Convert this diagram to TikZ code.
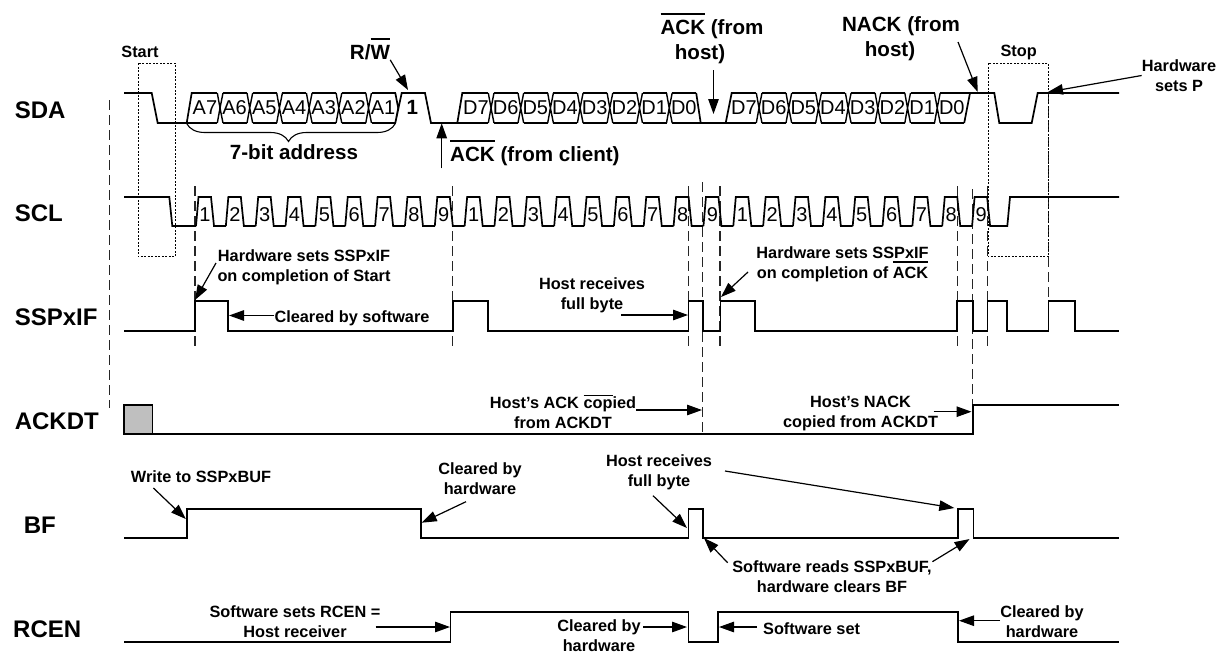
\documentclass[tikz,border=0pt]{standalone}
\usepackage{fontspec}
\setmainfont{Liberation Sans}
\usetikzlibrary{arrows.meta,decorations.pathreplacing}
% bar over a word, kept out of the height of the line
\newcommand{\barred}[1]{\smash{\vbox{\hrule height .08em \kern .25em \hbox{#1}}}}

\begin{document}
\begin{tikzpicture}[
    x=1pt, y=-1pt,
    every node/.style={inner sep=0pt, align=center},
    nm/.style={font=\fontsize{24}{28}\selectfont\bfseries, anchor=west},
    big/.style={font=\fontsize{20.6}{25}\selectfont\bfseries},
    lbl/.style={font=\fontsize{16.3}{20}\selectfont\bfseries},
    cell/.style={font=\fontsize{20}{24}\selectfont},
    sig/.style={line width=1.7pt, line join=miter},
    ar/.style={line width=1.2pt, -{Triangle[length=15pt,width=10.5pt]}},
    dsh/.style={line width=1.3pt, dash pattern=on 10pt off 5pt, black!85},
    win/.style={line width=1pt, dash pattern=on 2pt off 1.5pt},
  ]
  \useasboundingbox (0,0) rectangle (1225,656);

  % signal names
  \node[nm] (sda) at (14.6,110) {SDA};
  \node[nm] (scl) at (14.6,213.5) {SCL};
  \node[nm] (sspif) at (14.6,317) {SSPxIF};
  \node[nm] (ackdt) at (14.6,421) {ACKDT};
  \node[nm] (bf) at (23.7,525) {BF};
  \node[nm] (rcen) at (13,629) {RCEN};

  % dashed guides
  \draw[dsh] (109.5,100) -- (109.5,408);
  \foreach \xd in {195,452.7,688.3,720,957.3,987.7}
    \draw[dsh] (\xd,186) -- (\xd,346);
  \draw[dsh] (702.7,182) -- (702.7,434);
  \draw[dsh] (972.2,189) -- (972.2,405);
  \draw[dsh] (1048.4,92) -- (1048.4,300);

  % start and stop windows
  \draw[win] (138.3,63.3) rectangle (175.3,256.7);
  \draw[win] (988.3,63.3) rectangle (1048.4,256.7);
  \node[lbl] (start) at (140,52) {Start};
  \node[lbl] (stop) at (1018.7,52) {Stop};

  % SDA
  \draw[sig] (124,93) -- (151.7,93) -- (157.7,123) -- (193.3,123) (186.7,123) -- (191.7,93) -- (193.3,93);
  \foreach \xo/\pre/\lst/\grp in {190.3/A/6/a, 461.3/D/7/b, 729.3/D/7/c}
    \foreach \k in {0,...,\lst} {
      \pgfmathsetmacro\xc{\xo+29.7*\k}
      \pgfmathtruncatemacro\bit{7-\k}
      \draw[sig] (\xc+3,93) -- (\xc+27,93) (\xc+3,123) -- (\xc+27,123);
      \ifnum\k<\lst
        \draw[line width=1.4pt] (\xc+27,93) -- (\xc+29.7,108) -- (\xc+32.7,93)
          (\xc+27,123) -- (\xc+29.7,108) -- (\xc+32.7,123);
      \fi
      \node[cell] (\grp\k) at (\xc+14.6,107.7) {\pre\bit};
    }
  \draw[sig] (395.3,93) -- (398.2,108) -- (395.3,123) -- (401.7,93) -- (425,93) -- (431,123) -- (464.3,123)
    (457.3,123) -- (462.3,93) -- (464.3,93);
  \draw[sig] (696.2,93) -- (700.7,123) -- (732.3,123) (696.2,123) -- (700.7,123) -- (725.7,123) -- (731.7,93) -- (732.3,93);
  \draw[sig] (964.2,123) -- (970,93) -- (994.3,93) -- (999.3,123) -- (1031.7,123) -- (1037.7,93) -- (1119,93) (964.2,93) -- (970,93);
  \node[big] (rwbit) at (412.3,107.7) {1};

  % address brace
  \coordinate (brl) at (186.7,123.5);
  \coordinate (brr) at (395.3,123.5);
  \draw[line width=1.1pt, decorate, decoration={brace, mirror, amplitude=18pt, aspect=.488}] (brl) -- (brr);
  \node[big] (addr) at (294,152.5) {7-bit address};

  % SCL
  \draw[sig] (124,197) -- (169.3,197) -- (172.3,226) -- (196,226);
  \foreach \k in {0,...,26} {
    \pgfmathsetmacro\xc{196+29.85*\k}
    \pgfmathtruncatemacro\dg{mod(\k,9)+1}
    \draw[sig] (\xc,226) -- (\xc+2.5,197) -- (\xc+15,197) -- (\xc+18,226) -- (\xc+29.85,226);
    \node[cell] (n\k) at (\xc+9,215) {\dg};
  }
  \draw[sig] (990,226) -- (1007.3,226) -- (1010,197) -- (1119,197);

  % SSPxIF
  \draw[sig] (124,330.7) -- (195,330.7) |- (228,300.7) |- (452.7,330.7) |- (488,300.7) |- (688.4,330.7) |- (703.3,300.7)
    |- (720.6,330.7) |- (755,300.7) |- (957.3,330.7) |- (972.7,300.7) |- (987.6,330.7) |- (1007.3,300.7)
    |- (1048.4,330.7) |- (1074.7,300.7) |- (1119,330.7);

  % ACKDT
  \draw[line width=1.7pt, fill=black!25] (124,434) rectangle (152.6,405);
  \draw[sig] (124,434) -- (973,434) -- (973,405) -- (1119,405);

  % BF
  \draw[sig] (124,537.7) -- (187,537.7) |- (421,508.7) |- (688.4,537.7) |- (703.3,508.7) |- (957.8,537.7) |- (973.5,508.7) |- (1119,537.7);

  % RCEN
  \draw[sig] (124,642.3) -- (450.6,642.3) |- (688.4,612.3) |- (717.8,642.3) |- (957.8,612.3) |- (1119,642.3);

  % notes above SDA
  \node[big] (rw) at (370,52) {R/\barred{W}};
  \node[big] (ackhost) at (712,41.5) {\barred{ACK} (from\\host)\hspace*{24pt}};
  \node[big] (nackhost) at (901,38.5) {NACK (from\\host)\hspace*{22pt}};
  \node[lbl] (setp) at (1179,75.5) {Hardware\\sets P};
  \node[big, anchor=west] (ackclient) at (450,156) {\barred{ACK} (from client)};
  \coordinate (trw) at (408,90);
  \coordinate (tackc) at (441.7,123.3);
  \coordinate (sackc) at (441.7,168.3);
  \coordinate (tackh) at (713.5,114);
  \coordinate (sackh) at (713.5,70);
  \coordinate (tnack) at (977.7,92);
  \coordinate (snack) at (958,42);
  \coordinate (tsetp) at (1048,92);
  \draw[ar] (rw.south east) -- (trw);
  \draw[ar] (sackc) -- (tackc);
  \draw[ar] (sackh) -- (tackh);
  \draw[ar] (snack) -- (tnack);
  \draw[ar] (setp.west) -- (tsetp);

  % notes at SSPxIF
  \node[lbl] (hwstart) at (304,267) {Hardware sets SSPxIF\\on completion of Start};
  \node[lbl] (clrsw) at (352,318) {Cleared by software};
  \node[lbl] (hostif) at (592,295.5) {Host receives\\full byte};
  \node[lbl] (hwack) at (842.5,264) {Hardware sets SSPxIF\\on completion of \barred{ACK}};
  \coordinate (shw) at (216,263);
  \coordinate (thw) at (195,300);
  \coordinate (tclr) at (229,315.5);
  \coordinate (shost) at (621,315);
  \coordinate (thost) at (688,315);
  \coordinate (sack) at (748,272);
  \coordinate (tack) at (721,297);
  \draw[ar] (shw) -- (thw);
  \draw[ar] (clrsw.west |- tclr) -- (tclr);
  \draw[ar] (shost) -- (thost);
  \draw[ar] (sack) -- (tack);

  % notes at ACKDT
  \node[lbl] (hostack) at (563,413) {Host's ACK \barred{cop}ied\\from ACKDT};
  \node[lbl] (hostnack) at (860.6,413) {Host's NACK\\copied from ACKDT};
  \coordinate (tcopy) at (702,410);
  \coordinate (snack2) at (933.5,411.7);
  \coordinate (tnack2) at (971.5,411.7);
  \draw[ar] (hostack.east |- tcopy) -- (tcopy);
  \draw[ar] (snack2) -- (tnack2);

  % notes at BF
  \node[lbl] (wrbuf) at (201,476.7) {Write to SSPxBUF};
  \node[lbl] (clrhw) at (480,479) {Cleared by\\hardware};
  \node[lbl] (hostbf) at (659,472.7) {Host receives\\full byte};
  \node[lbl] (swread) at (832,576.7) {Software reads SSPxBUF,\\hardware clears BF};
  \coordinate (swr) at (153.4,488);
  \coordinate (twr) at (185.8,519);
  \coordinate (sclr) at (466,501.7);
  \coordinate (tclr2) at (421.7,522.7);
  \coordinate (sbf) at (653,495.7);
  \coordinate (tbf) at (687,528);
  \coordinate (sbf2) at (725,471);
  \coordinate (tbf2) at (954.3,508);
  \coordinate (srd) at (727.6,562.7);
  \coordinate (trd) at (704,538);
  \coordinate (srd2) at (932.4,561.7);
  \coordinate (trd2) at (969.6,539);
  \draw[ar] (swr) -- (twr);
  \draw[ar] (sclr) -- (tclr2);
  \draw[ar] (sbf) -- (tbf);
  \draw[ar] (sbf2) -- (tbf2);
  \draw[ar] (srd) -- (trd);
  \draw[ar] (srd2) -- (trd2);

  % notes at RCEN
  \node[lbl] (swrcen) at (295,621.7) {Software sets RCEN =\\Host receiver};
  \node[lbl] (clrmid) at (599,635.5) {Cleared by\\hardware};
  \node[lbl] (swset) at (811.6,629) {Software set};
  \node[lbl] (clrend) at (1042,621.7) {Cleared by\\hardware};
  \coordinate (srcen) at (375.5,627);
  \coordinate (trcen) at (450,627);
  \coordinate (scm) at (643.3,627);
  \coordinate (tcm) at (687,627);
  \coordinate (sset) at (757,627);
  \coordinate (tset) at (719,627);
  \coordinate (tce) at (959,620.7);
  \draw[ar] (srcen) -- (trcen);
  \draw[ar] (scm) -- (tcm);
  \draw[ar] (sset) -- (tset);
  \draw[ar] (clrend.west |- tce) -- (tce);
\end{tikzpicture}
\end{document}
